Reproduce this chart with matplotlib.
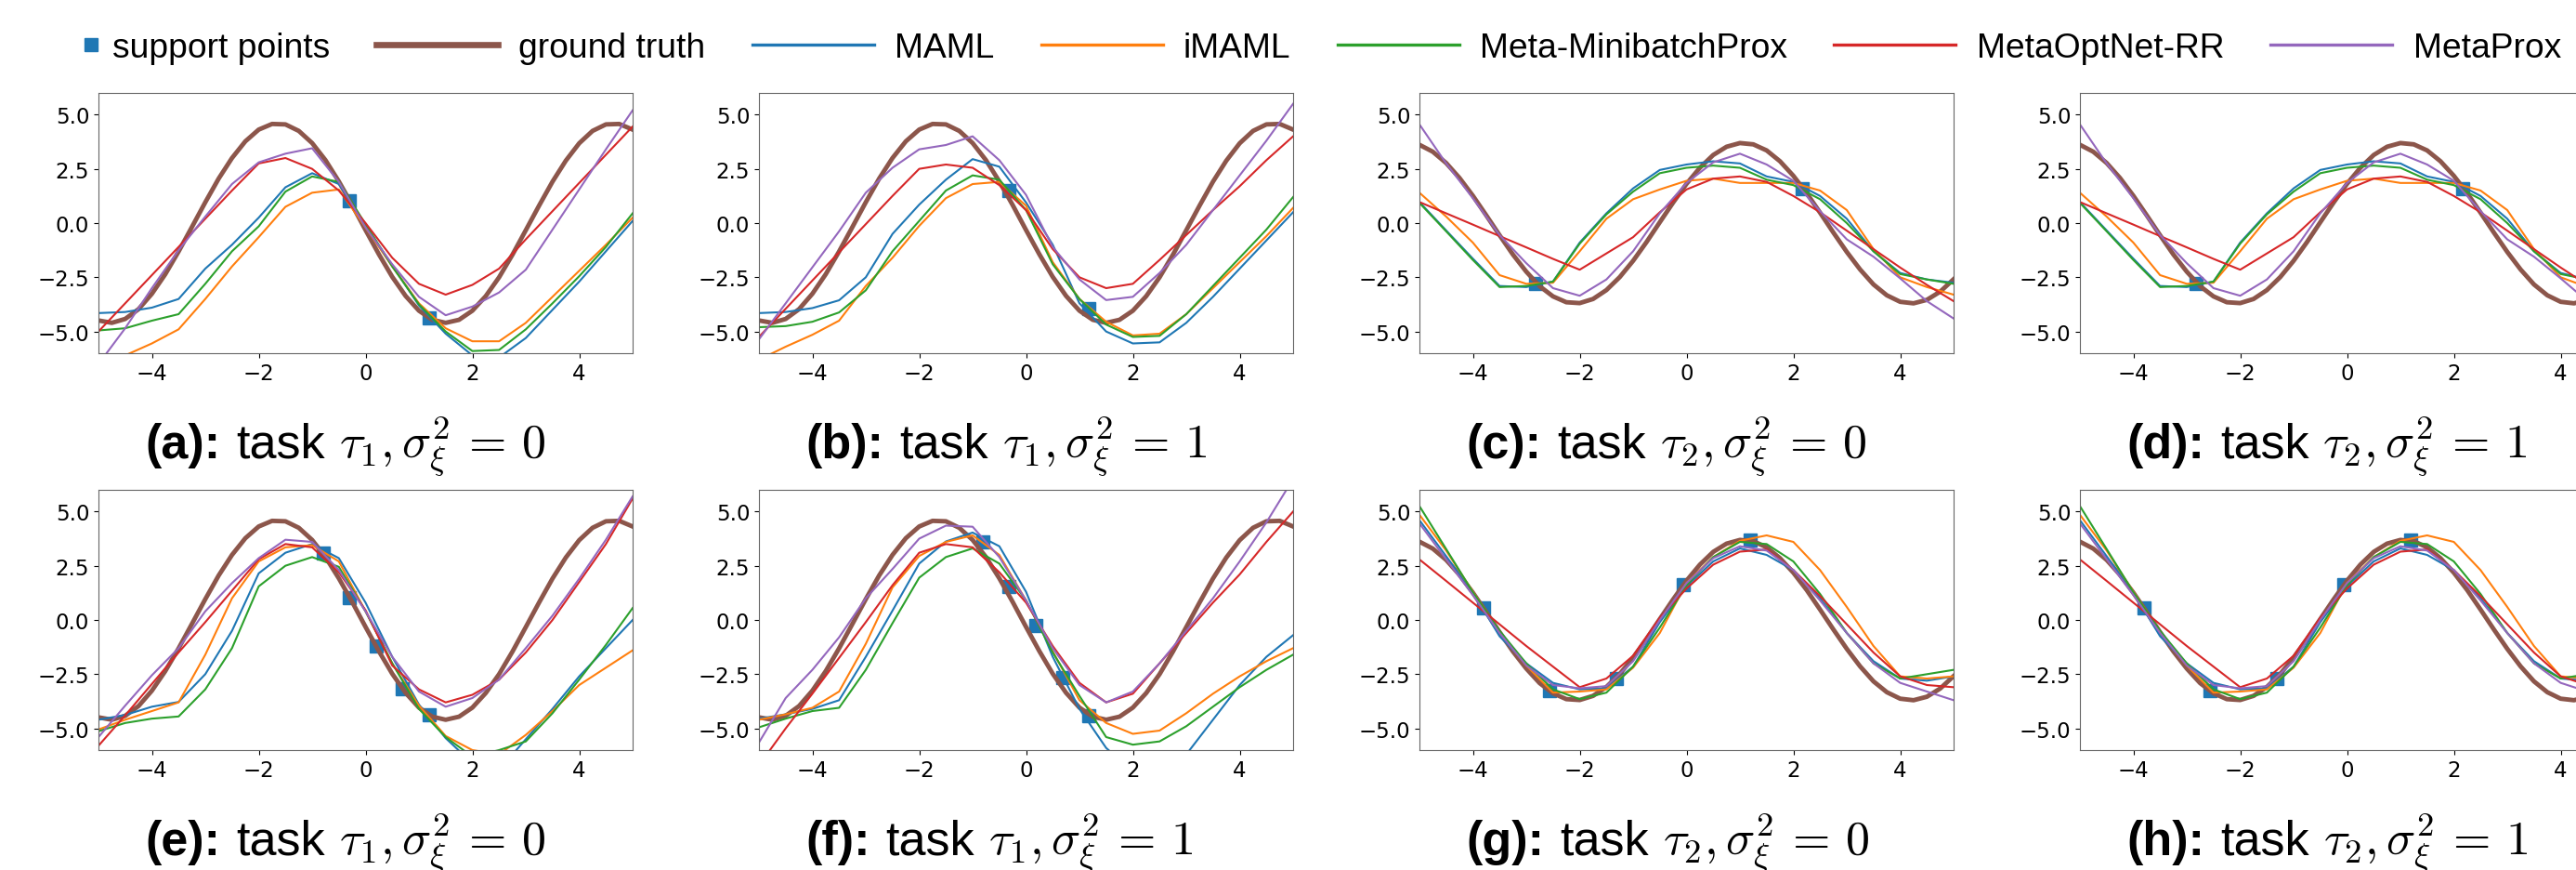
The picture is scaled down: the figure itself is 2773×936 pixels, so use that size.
import numpy as np
import matplotlib
matplotlib.use("Agg")
import matplotlib.pyplot as plt

# sample grid used for the fitted curves and for the ground truth
x_grid = [-5.0, -4.5, -4.0, -3.5, -3.0, -2.5, -2.0, -1.5, -1.0, -0.5, 0.0,
          0.5, 1.0, 1.5, 2.0, 2.5, 3.0, 3.5, 4.0, 4.5, 5.0]
truth_x = np.arange(-5.0, 5.001, 0.25)

# ground truth sine curves
truth_tau1 = [-4.49, -4.60, -4.42, -3.97, -3.26, -2.36, -1.31, -0.18, 0.96, 2.05,
              3.00, 3.77, 4.31, 4.57, 4.55, 4.25, 3.69, 2.90, 1.92, 0.83, -0.32,
              -1.44, -2.48, -3.36, -4.04, -4.46, -4.60, -4.46, -4.04, -3.37, -2.50,
              -1.46, -0.33, 0.81, 1.91, 2.88, 3.68, 4.25, 4.55, 4.57, 4.31]
truth_tau2 = [3.61, 3.29, 2.77, 2.08, 1.26, 0.36, -0.56, -1.45, -2.24, -2.91,
              -3.38, -3.65, -3.69, -3.50, -3.09, -2.49, -1.74, -0.88, 0.04, 0.95,
              1.81, 2.55, 3.14, 3.52, 3.69, 3.63, 3.35, 2.85, 2.18, 1.38, 0.48,
              -0.44, -1.33, -2.14, -2.83, -3.33, -3.63, -3.70, -3.54, -3.16, -2.59]

# panel (a): task 1, no noise
maml_a = [-4.15, -4.1, -3.9, -3.5, -2.1, -1.0, 0.25, 1.65, 2.3, 1.8, -0.1, -1.95, -3.8, -5.1, -6.1, -6.2, -5.3, -4.0, -2.7, -1.3, 0.1]
imaml_a = [-6.8, -6.1, -5.55, -4.9, -3.5, -2.0, -0.65, 0.75, 1.4, 1.55, -0.2, -2.0, -3.7, -4.85, -5.45, -5.45, -4.6, -3.4, -2.2, -1.0, 0.25]
mmp_a = [-4.95, -4.85, -4.5, -4.2, -2.8, -1.3, -0.15, 1.45, 2.15, 1.9, -0.05, -2.0, -3.75, -5.0, -5.9, -5.85, -4.9, -3.7, -2.45, -1.1, 0.45]
mor_a = [-5.0, -3.7, -2.4, -1.1, 0.2, 1.5, 2.75, 3.0, 2.5, 1.5, 0.0, -1.6, -2.8, -3.3, -2.85, -2.1, -0.75, 0.55, 1.85, 3.15, 4.45]
mp_a = [-6.5, -4.85, -3.0, -1.25, 0.3, 1.8, 2.8, 3.2, 3.45, 1.9, -0.2, -1.9, -3.4, -4.25, -3.85, -3.2, -2.15, -0.3, 1.55, 3.4, 5.2]
sup_x_a = [-0.3, 1.19]
sup_y_a = [1.04, -4.39]

# panel (b): task 1, noisy
maml_b = [-4.15, -4.1, -3.92, -3.56, -2.5, -0.5, 0.85, 2.0, 2.95, 2.6, 0.95, -1.0, -3.7, -5.0, -5.55, -5.5, -4.6, -3.4, -2.1, -0.8, 0.5]
imaml_b = [-6.3, -5.7, -5.15, -4.5, -2.9, -1.6, -0.13, 1.15, 1.8, 1.9, 0.8, -1.8, -3.5, -4.55, -5.18, -5.1, -4.2, -3.0, -1.8, -0.6, 0.7]
mmp_b = [-4.8, -4.75, -4.55, -4.12, -3.1, -1.3, 0.1, 1.5, 2.2, 2.0, 0.6, -1.9, -3.5, -4.68, -5.25, -5.2, -4.2, -2.9, -1.6, -0.3, 1.2]
mor_b = [-5.25, -3.95, -2.65, -1.35, -0.05, 1.25, 2.5, 2.7, 2.55, 1.75, 0.6, -1.2, -2.5, -3.0, -2.8, -1.7, -0.55, 0.6, 1.7, 2.9, 4.0]
mp_b = [-5.36, -3.7, -2.04, -0.38, 1.4, 2.55, 3.4, 3.6, 4.0, 2.9, 1.3, -1.1, -2.6, -3.55, -3.4, -2.3, -1.0, 0.6, 2.2, 3.8, 5.5]
sup_x_b = [-0.32, 1.18]
sup_y_b = [1.5, -3.96]

# panels (c) and (d): task 2
maml_c = [0.97, -0.34, -1.64, -2.9, -2.95, -2.7, -0.9, 0.45, 1.6, 2.45, 2.7, 2.85, 2.75, 2.15, 1.9, 1.25, 0.2, -1.3, -2.3, -2.6, -2.75]
imaml_c = [1.4, 0.3, -0.9, -2.4, -2.8, -2.75, -1.3, 0.2, 1.1, 1.55, 1.95, 2.05, 1.85, 1.85, 1.85, 1.5, 0.6, -1.2, -2.5, -2.95, -3.3]
mmp_c = [0.93, -0.38, -1.7, -2.95, -2.9, -2.7, -0.95, 0.4, 1.45, 2.3, 2.55, 2.65, 2.55, 2.0, 1.75, 1.1, 0.0, -1.3, -2.35, -2.6, -2.8]
mor_c = [0.97, 0.45, -0.07, -0.6, -1.12, -1.65, -2.15, -1.4, -0.65, 0.5, 1.55, 2.05, 2.15, 1.9, 1.25, 0.5, -0.35, -1.2, -2.05, -2.85, -3.6]
mp_c = [4.55, 2.75, 1.15, -0.55, -1.85, -3.0, -3.35, -2.6, -1.3, 0.45, 1.85, 2.8, 3.2, 2.7, 1.95, 0.55, -0.75, -1.55, -2.55, -3.6, -4.4]
sup_x_c = [-2.83, 2.17]
sup_y_c = [-2.8, 1.6]

# panel (e): task 1, no noise, 5 shots
maml_e = [-4.6, -4.38, -4.0, -3.78, -2.5, -0.5, 2.15, 3.1, 3.5, 2.85, 0.8, -1.7, -3.9, -5.45, -6.6, -6.9, -5.5, -4.1, -2.6, -1.3, 0.0]
imaml_e = [-5.05, -4.6, -4.2, -3.8, -1.6, 1.0, 2.7, 3.35, 3.45, 2.7, 0.4, -2.0, -3.95, -5.35, -6.0, -6.2, -5.3, -4.2, -3.0, -2.2, -1.4]
mmp_e = [-5.13, -4.75, -4.55, -4.45, -3.2, -1.3, 1.55, 2.5, 2.9, 2.45, 0.4, -2.0, -4.1, -5.4, -6.3, -6.0, -5.6, -4.3, -2.75, -1.15, 0.55]
mor_e = [-5.8, -4.4, -2.95, -1.5, -0.1, 1.35, 2.8, 3.5, 3.35, 2.2, 0.45, -2.1, -3.2, -3.8, -3.45, -2.75, -1.5, 0.0, 1.75, 3.5, 5.6]
mp_e = [-5.4, -3.95, -2.55, -1.3, 0.4, 1.7, 2.85, 3.7, 3.6, 2.3, 0.4, -1.7, -3.3, -4.0, -3.6, -2.75, -1.3, 0.2, 1.9, 3.7, 5.7]
sup_x_e = [-0.8, -0.3, 0.2, 0.69, 1.19]
sup_y_e = [3.07, 1.04, -1.22, -3.17, -4.39]

# panel (f): task 1, noisy, 5 shots
maml_f = [-4.55, -4.35, -4.1, -3.7, -1.7, 0.43, 2.6, 3.62, 4.03, 3.4, 1.3, -1.7, -4.1, -5.9, -7.0, -7.2, -6.2, -4.6, -3.0, -1.7, -0.7]
imaml_f = [-4.6, -4.35, -4.05, -3.3, -1.1, 1.5, 2.95, 3.6, 3.9, 3.0, 0.9, -1.45, -3.7, -4.75, -5.25, -5.1, -4.3, -3.4, -2.6, -1.9, -1.3]
mmp_f = [-4.95, -4.55, -4.2, -4.05, -2.3, -0.15, 1.95, 2.9, 3.3, 2.6, 0.9, -1.5, -3.5, -5.4, -5.75, -5.6, -4.9, -4.0, -3.1, -2.3, -1.6]
mor_f = [-6.7, -5.0, -3.4, -1.75, -0.1, 1.6, 3.1, 3.5, 3.35, 2.2, 0.8, -1.2, -2.9, -3.8, -3.4, -2.0, -0.6, 0.8, 2.1, 3.6, 5.0]
mp_f = [-5.65, -3.6, -2.3, -0.8, 1.0, 2.35, 3.75, 4.35, 4.3, 2.9, 0.9, -1.3, -3.0, -3.8, -3.3, -2.0, -0.5, 1.0, 2.7, 4.5, 6.5]
sup_x_f = [-0.81, -0.32, 0.19, 0.69, 1.18]
sup_y_f = [3.6, 1.55, -0.25, -2.65, -4.4]

# panels (g) and (h): task 2, 5 shots
maml_g = [4.6, 2.94, 1.27, -0.75, -2.0, -2.9, -3.2, -3.15, -2.15, -0.1, 1.55, 2.7, 3.3, 3.0, 2.3, 1.0, -0.6, -1.9, -2.7, -2.8, -2.6]
imaml_g = [4.85, 3.2, 1.3, -0.55, -2.1, -3.35, -3.3, -3.2, -2.2, -0.6, 1.7, 2.9, 3.65, 3.9, 3.6, 2.3, 0.6, -1.2, -2.6, -2.7, -2.6]
mmp_g = [5.25, 3.27, 1.28, -0.5, -2.0, -3.2, -3.65, -3.35, -2.15, -0.35, 1.6, 2.9, 3.6, 3.5, 2.7, 1.2, -0.6, -2.0, -2.7, -2.5, -2.3]
mor_g = [2.79, 1.8, 0.8, -0.2, -1.2, -2.15, -3.1, -2.7, -1.65, 0.1, 1.45, 2.55, 3.15, 3.25, 2.3, 1.1, -0.2, -1.5, -2.6, -3.0, -3.1]
mp_g = [4.45, 2.8, 1.15, -0.6, -2.1, -3.0, -3.15, -3.05, -1.9, 0.0, 1.7, 2.85, 3.4, 3.2, 2.3, 0.9, -0.6, -2.0, -2.9, -3.3, -3.7]
sup_x_g = [-3.8, -2.57, -1.32, -0.06, 1.19]
sup_y_g = [0.55, -3.27, -2.68, 1.62, 3.67]

methods = ["MAML", "iMAML", "Meta-MinibatchProx", "MetaOptNet-RR", "MetaProx"]
colors = ["#1f77b4", "#ff7f0e", "#2ca02c", "#d62728", "#9467bd"]
truth_color = "#8c564b"

panels = [
    ("(a):", "1", "0", truth_tau1, [maml_a, imaml_a, mmp_a, mor_a, mp_a], sup_x_a, sup_y_a),
    ("(b):", "1", "1", truth_tau1, [maml_b, imaml_b, mmp_b, mor_b, mp_b], sup_x_b, sup_y_b),
    ("(c):", "2", "0", truth_tau2, [maml_c, imaml_c, mmp_c, mor_c, mp_c], sup_x_c, sup_y_c),
    ("(d):", "2", "1", truth_tau2, [maml_c, imaml_c, mmp_c, mor_c, mp_c], sup_x_c, sup_y_c),
    ("(e):", "1", "0", truth_tau1, [maml_e, imaml_e, mmp_e, mor_e, mp_e], sup_x_e, sup_y_e),
    ("(f):", "1", "1", truth_tau1, [maml_f, imaml_f, mmp_f, mor_f, mp_f], sup_x_f, sup_y_f),
    ("(g):", "2", "0", truth_tau2, [maml_g, imaml_g, mmp_g, mor_g, mp_g], sup_x_g, sup_y_g),
    ("(h):", "2", "1", truth_tau2, [maml_g, imaml_g, mmp_g, mor_g, mp_g], sup_x_g, sup_y_g),
]

W, H = 2773, 937
fig = plt.figure(figsize=(W / 100, H / 100), dpi=100)
renderer = fig.canvas.get_renderer()

col_left = [106, 817, 1528, 2239]
row_top = [101, 528]
ax_w, ax_h = 575, 280
cap_base = [493, 920]
cap_size = 37.5


def caption(x_px, y_px, tag, task, noise):
    y = 1 - y_px / H
    t = fig.text(x_px / W, y, tag, fontsize=cap_size, fontweight="bold",
                 family="Liberation Sans", va="baseline")
    x = t.get_window_extent(renderer).x1 + 17
    t = fig.text(x / W, y, "task", fontsize=cap_size, family="Liberation Sans",
                 va="baseline")
    x = t.get_window_extent(renderer).x1 + 15
    fig.text(x / W, y, r"$\tau_%s, \sigma_\xi^2 \,=\, %s$" % (task, noise),
             fontsize=cap_size, va="baseline", math_fontfamily="cm")


handles = None
for i, (tag, task, noise, truth, curves, sx, sy) in enumerate(panels):
    r, c = divmod(i, 4)
    ax = fig.add_axes([col_left[c] / W, 1 - (row_top[r] + ax_h) / H, ax_w / W, ax_h / H])
    hs = ax.plot(sx, sy, "s", color=colors[0], ms=9.5, label="support points")
    hs += ax.plot(truth_x, truth, color=truth_color, lw=3.5, label="ground truth")
    for name, ys, col in zip(methods, curves, colors):
        hs += ax.plot(x_grid, ys, color=col, lw=1.5, label=name)
    ax.set_xlim(-5, 5)
    ax.set_ylim(-6, 6)
    ax.set_xticks([-4, -2, 0, 2, 4])
    ax.set_yticks([-5, -2.5, 0, 2.5, 5])
    ax.tick_params(labelsize=16.5)
    for sp in ax.spines.values():
        sp.set_color("0.4")
    if handles is None:
        handles = hs
    caption(col_left[c] + 50, cap_base[r], tag, task, noise)

leg = fig.legend(handles, [h.get_label() for h in handles], loc="center left",
                 bbox_to_anchor=(-44 / W, 1 - 53 / H), ncol=7, frameon=False,
                 prop={"family": "Liberation Sans", "size": 26.8},
                 handlelength=4.12, handletextpad=0.3, columnspacing=1.05,
                 numpoints=2, borderpad=0, borderaxespad=0)
for ln in leg.get_lines():
    if ln.get_label() == "ground truth":
        ln.set_linewidth(4.8)
    else:
        ln.set_linewidth(2.4)

fig.savefig("out.png", dpi=100)
